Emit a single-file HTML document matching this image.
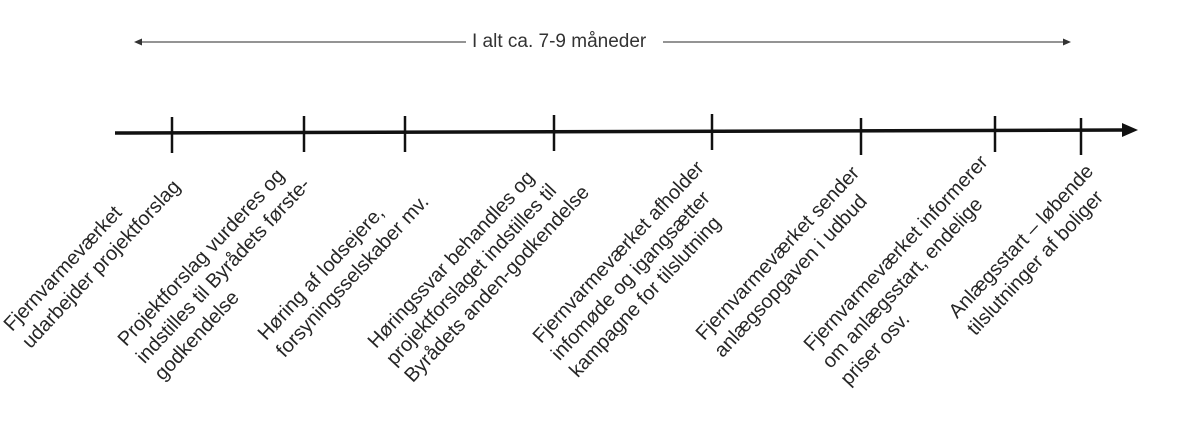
<!DOCTYPE html>
<html><head><meta charset="utf-8"><style>
html,body{margin:0;padding:0;background:#fff;}
body{width:1191px;height:438px;position:relative;overflow:hidden;font-family:"Liberation Sans",sans-serif;color:#262626;}
.l{position:absolute;font-size:20px;line-height:25px;white-space:nowrap;transform-origin:0 0;transform:rotate(-47deg);}
</style></head><body>
<svg width="1191" height="438" style="position:absolute;left:0;top:0">
<line x1="140" y1="42" x2="466" y2="42" stroke="#555" stroke-width="1.3"/>
<polygon points="134,42 142,38.5 142,45.5" fill="#333"/>
<line x1="663" y1="42" x2="1064" y2="42" stroke="#555" stroke-width="1.3"/>
<polygon points="1071,42 1063,38.5 1063,45.5" fill="#333"/>
<line x1="115" y1="133" x2="1124" y2="130" stroke="#111" stroke-width="3.5"/>
<polygon points="1138,130 1122,123 1122,137" fill="#111"/>
<g stroke="#111" stroke-width="2.5">
<line x1="172" y1="117" x2="172" y2="153"/>
<line x1="304" y1="116" x2="304" y2="152"/>
<line x1="405" y1="116" x2="405" y2="152"/>
<line x1="554" y1="115" x2="554" y2="151"/>
<line x1="712" y1="114" x2="712" y2="150"/>
<line x1="861" y1="118" x2="861" y2="155"/>
<line x1="995" y1="116" x2="995" y2="152"/>
<line x1="1081" y1="118" x2="1081" y2="155"/>
</g>
</svg>
<div style="position:absolute;left:472px;top:30px;font-size:19px;line-height:24px;white-space:nowrap;color:#333">I alt ca. 7-9 måneder</div>
<div class="l" style="left:-1px;top:320px">Fjernvarmeværket<br>udarbejder projektforslag</div>
<div class="l" style="left:113px;top:335px">Projektforslag vurderes og<br>indstilles til Byrådets første-<br>godkendelse</div>
<div class="l" style="left:253px;top:329px">Høring af lodsejere,<br>forsyningsselskaber mv.</div>
<div class="l" style="left:363px;top:337px">Høringssvar behandles og<br>projektforslaget indstilles til<br>Byrådets anden-godkendelse</div>
<div class="l" style="left:528px;top:332px">Fjernvarmeværket afholder<br>infomøde og igangsætter<br>kampagne for tilslutning</div>
<div class="l" style="left:691px;top:329px">Fjernvarmeværket sender<br>anlægsopgaven i udbud</div>
<div class="l" style="left:799px;top:340px">Fjernvarmeværket informerer<br>om anlægsstart, endelige<br>priser osv.</div>
<div class="l" style="left:944px;top:307px">Anlægsstart – løbende<br>tilslutninger af boliger</div>
</body></html>
